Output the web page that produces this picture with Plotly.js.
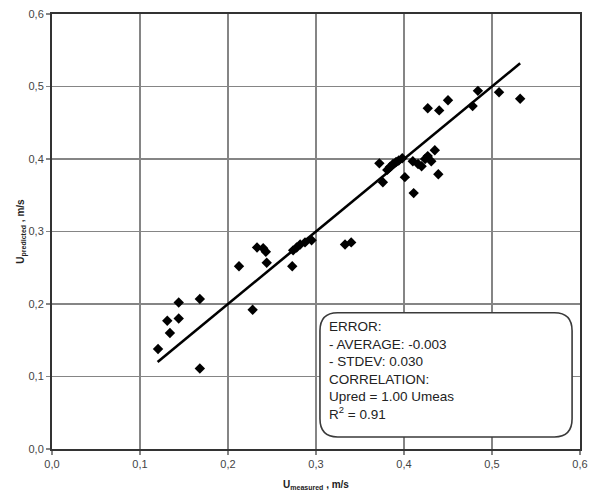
<!DOCTYPE html>
<html>
<head>
<meta charset="utf-8">
<script src="https://cdn.plot.ly/plotly-3.0.1.min.js"></script>
<style>
  html, body { margin: 0; padding: 0; background: #ffffff; }
  #chart { width: 589px; height: 491px; }
</style>
</head>
<body>
<div id="chart"></div>
<script>
// Measured vs predicted velocity (m/s)
const uMeasured = [
  0.1205, 0.131, 0.134, 0.144, 0.144, 0.168, 0.168,
  0.2125, 0.228, 0.233, 0.240, 0.243, 0.244, 0.273, 0.274, 0.278, 0.282, 0.2875, 0.295, 0.333, 0.340,
  0.372, 0.376, 0.381, 0.384, 0.3875, 0.391, 0.394, 0.398, 0.401, 0.410, 0.411, 0.416, 0.420, 0.424,
  0.427, 0.431, 0.435, 0.439,
  0.427, 0.440, 0.450, 0.478, 0.484, 0.508, 0.532
];
const uPredicted = [
  0.138, 0.177, 0.160, 0.180, 0.202, 0.207, 0.111,
  0.252, 0.192, 0.278, 0.277, 0.272, 0.257, 0.252, 0.274, 0.278, 0.282, 0.285, 0.288, 0.282, 0.285,
  0.394, 0.368, 0.385, 0.389, 0.393, 0.396, 0.398, 0.401, 0.375, 0.397, 0.353, 0.393, 0.390, 0.400,
  0.404, 0.397, 0.412, 0.379,
  0.470, 0.467, 0.481, 0.473, 0.494, 0.492, 0.483
];

// Correlation line Upred = slope * Umeas over the measured range
const slope = 1.00;
const fitRange = [0.12, 0.532];

const tickValues = [0, 0.1, 0.2, 0.3, 0.4, 0.5, 0.6];
const tickLabels = ["0,0", "0,1", "0,2", "0,3", "0,4", "0,5", "0,6"];

const statsLines = [
  "ERROR:",
  "- AVERAGE: -0.003",
  "- STDEV: 0.030",
  "CORRELATION:",
  "Upred = " + slope.toFixed(2) + " Umeas",
  "R<sup>2</sup> = 0.91"
];

// Rounded box behind the statistics text (data coordinates)
const box = { x0: 0.3045, x1: 0.591, y0: 0.0166, y1: 0.188 };
const rx = 0.02, ry = 0.025;
const boxPath =
  `M ${box.x0 + rx},${box.y1} L ${box.x1 - rx},${box.y1} ` +
  `Q ${box.x1},${box.y1} ${box.x1},${box.y1 - ry} ` +
  `L ${box.x1},${box.y0 + ry} Q ${box.x1},${box.y0} ${box.x1 - rx},${box.y0} ` +
  `L ${box.x0 + rx},${box.y0} Q ${box.x0},${box.y0} ${box.x0},${box.y0 + ry} ` +
  `L ${box.x0},${box.y1 - ry} Q ${box.x0},${box.y1} ${box.x0 + rx},${box.y1} Z`;

const points = {
  type: "scatter",
  mode: "markers",
  x: uMeasured,
  y: uPredicted,
  marker: { symbol: "diamond", size: 8, color: "#000000" },
  hoverinfo: "x+y",
  showlegend: false
};

const fitLine = {
  type: "scatter",
  mode: "lines",
  x: fitRange,
  y: fitRange.map(v => slope * v),
  line: { color: "#000000", width: 2.6 },
  hoverinfo: "skip",
  showlegend: false
};

const axisCommon = {
  range: [0, 0.6],
  tickvals: tickValues,
  ticktext: tickLabels,
  showgrid: true,
  gridcolor: "#858585",
  gridwidth: 1.7,
  zeroline: false,
  showline: true,
  linecolor: "#333333",
  linewidth: 2,
  mirror: true,
  ticks: "outside",
  ticklen: 4,
  tickwidth: 1.5,
  tickcolor: "#858585",
  tickfont: { family: "Liberation Sans, Arial, sans-serif", size: 11, color: "#444444" },
  fixedrange: true
};

const layout = {
  width: 589,
  height: 491,
  margin: { l: 52, r: 9, t: 14, b: 42 },
  paper_bgcolor: "#ffffff",
  plot_bgcolor: "#ffffff",
  font: { family: "Liberation Sans, Arial, sans-serif", color: "#222222" },
  xaxis: Object.assign({}, axisCommon, {
    title: {
      text: "<b>U<sub>measured</sub> , m/s</b>",
      font: { size: 10, color: "#222222" },
      standoff: 12
    }
  }),
  yaxis: Object.assign({}, axisCommon, {
    title: {
      text: "<b>U<sub>predicted</sub> , m/s</b>",
      font: { size: 10, color: "#222222" },
      standoff: 0
    }
  }),
  shapes: [{
    type: "path",
    xref: "x",
    yref: "y",
    path: boxPath,
    fillcolor: "#ffffff",
    line: { color: "#3a3a3a", width: 1.6 },
    layer: "above"
  }],
  annotations: [{
    xref: "x",
    yref: "y",
    x: box.x0 + 0.008,
    y: box.y1 - 0.006,
    xanchor: "left",
    yanchor: "top",
    align: "left",
    showarrow: false,
    text: statsLines.join("<br>"),
    font: { family: "Liberation Sans, Arial, sans-serif", size: 13.5, color: "#222222" }
  }]
};

Plotly.newPlot("chart", [points, fitLine], layout, { displayModeBar: false, staticPlot: true });
</script>
</body>
</html>
